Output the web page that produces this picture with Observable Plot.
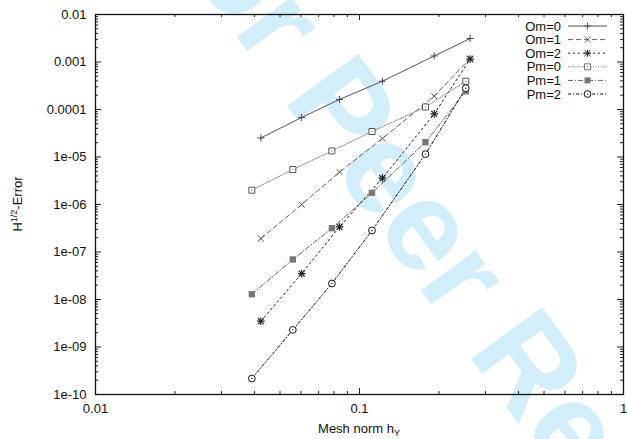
<!DOCTYPE html>
<html><head><meta charset="utf-8">
<script src="https://cdn.jsdelivr.net/npm/d3@7"></script>
<script src="https://cdn.jsdelivr.net/npm/@observablehq/plot@0.6"></script>
<style>
body{margin:0;background:#fff;}
svg{display:block;font-family:"Liberation Sans",Arial,Helvetica,sans-serif;}
</style>
</head><body><div id="chart"></div>
<script>
// ---- data ----
const seriesNames = ["Om=0", "Om=1", "Om=2", "Pm=0", "Pm=1", "Pm=2"];
const omMesh = [0.0423, 0.0604, 0.0840, 0.1221, 0.1919, 0.2624];
const pmMesh = [0.0391, 0.0559, 0.0786, 0.1115, 0.1778, 0.2527];
const om0Err = [2.52e-5, 6.79e-5, 1.63e-4, 3.94e-4, 1.34e-3, 3.12e-3];
const om1Err = [1.92e-7, 1.0e-6, 4.79e-6, 2.45e-5, 1.91e-4, 1.19e-3];
const om2Err = [3.49e-9, 3.52e-8, 3.38e-7, 3.58e-6, 8.08e-5, 1.15e-3];
const pm0Err = [2.0e-6, 5.46e-6, 1.34e-5, 3.44e-5, 1.13e-4, 3.94e-4];
const pm1Err = [1.29e-8, 6.95e-8, 3.17e-7, 1.75e-6, 2.05e-5, 2.43e-4];
const pm2Err = [2.17e-10, 2.29e-9, 2.17e-8, 2.84e-7, 1.15e-5, 2.81e-4];
const xTicks = [0.01, 0.1, 1];
const xTickLabels = ["0.01", "0.1", "1"];
const yTicks = [1e-10, 1e-9, 1e-8, 1e-7, 1e-6, 1e-5, 1e-4, 1e-3, 1e-2];
const yTickLabels = ["1e-10", "1e-09", "1e-08", "1e-07", "1e-06", "1e-05", "0.0001", "0.001", "0.01"];
const watermark = "For Peer Review";

// ---- build table ----
const meshFor = [omMesh, omMesh, omMesh, pmMesh, pmMesh, pmMesh];
const errFor = [om0Err, om1Err, om2Err, pm0Err, pm1Err, pm2Err];
const rows = [];
seriesNames.forEach((s, k) => errFor[k].forEach((e, i) => rows.push({series: s, h: meshFor[k][i], err: e})));
const of = s => rows.filter(d => d.series === s);

const sty = {
  "Om=0": {stroke: "#555", dash: null},
  "Om=1": {stroke: "#666", dash: "5,3"},
  "Om=2": {stroke: "#222", dash: "2,3"},
  "Pm=0": {stroke: "#777", dash: "1,1.5"},
  "Pm=1": {stroke: "#666", dash: "5,2,1,2"},
  "Pm=2": {stroke: "#111", dash: "3,2,1,2"}
};

const W = 627, H = 439, mL = 95, mR = 4, mT = 14, mB = 45;
const fw = W - mL - mR, fh = H - mT - mB;
const minors = ticks => ticks.slice(0, -1).flatMap(t => d3.range(2, 10).map(j => j * t));
const xLab = new Map(xTicks.map((t, i) => [t, xTickLabels[i]]));
const yLab = new Map(yTicks.map((t, i) => [t, yTickLabels[i]]));

const marks = [];
const tk = {stroke: "#222", strokeWidth: 1};
marks.push(Plot.ruleX(xTicks, {x: d => d, insetTop: fh - 6, ...tk}));
marks.push(Plot.ruleX(xTicks, {x: d => d, insetBottom: fh - 6, ...tk}));
marks.push(Plot.ruleX(minors(xTicks), {x: d => d, insetTop: fh - 3, ...tk}));
marks.push(Plot.ruleX(minors(xTicks), {x: d => d, insetBottom: fh - 3, ...tk}));
marks.push(Plot.ruleY(yTicks, {y: d => d, insetRight: fw - 6, ...tk}));
marks.push(Plot.ruleY(yTicks, {y: d => d, insetLeft: fw - 6, ...tk}));
marks.push(Plot.ruleY(minors(yTicks), {y: d => d, insetRight: fw - 3, ...tk}));
marks.push(Plot.ruleY(minors(yTicks), {y: d => d, insetLeft: fw - 3, ...tk}));
marks.push(Plot.frame({stroke: "#111", strokeWidth: 1.3}));
marks.push(Plot.axisX({ticks: xTicks, tickFormat: d => xLab.get(d), tickSize: 0, tickPadding: 9, fontSize: 13, label: null, fill: "#111"}));
marks.push(Plot.axisY({ticks: yTicks, tickFormat: d => yLab.get(d), tickSize: 0, tickPadding: 9, fontSize: 13, label: null, fill: "#111"}));

seriesNames.forEach(s => {
  marks.push(Plot.line(of(s), {x: "h", y: "err", stroke: sty[s].stroke, strokeWidth: 1, strokeDasharray: sty[s].dash}));
});
marks.push(Plot.dot(of("Om=0"), {x: "h", y: "err", symbol: "plus", r: 2.4, stroke: "#444", strokeWidth: 1}));
marks.push(Plot.dot(of("Om=1"), {x: "h", y: "err", symbol: "times", r: 2.8, stroke: "#555", strokeWidth: 1}));
marks.push(Plot.dot(of("Om=2"), {x: "h", y: "err", symbol: "plus", r: 2.6, stroke: "#222", strokeWidth: 1.2}));
marks.push(Plot.dot(of("Om=2"), {x: "h", y: "err", symbol: "times", r: 2.8, stroke: "#222", strokeWidth: 1.2}));
marks.push(Plot.dot(of("Pm=0"), {x: "h", y: "err", symbol: "square", r: 3.4, fill: "white", stroke: "#555", strokeWidth: 1}));
marks.push(Plot.dot(of("Pm=0"), {x: "h", y: "err", r: 0.6, fill: "#555"}));
marks.push(Plot.dot(of("Pm=1"), {x: "h", y: "err", symbol: "square", r: 3.6, fill: "#777", stroke: "none"}));
marks.push(Plot.dot(of("Pm=2"), {x: "h", y: "err", symbol: "circle", r: 3.4, fill: "white", stroke: "#111", strokeWidth: 1}));
marks.push(Plot.dot(of("Pm=2"), {x: "h", y: "err", r: 0.7, fill: "#111"}));

const svgEl = Plot.plot({
  width: W, height: H,
  marginLeft: mL, marginRight: mR, marginTop: mT, marginBottom: mB,
  x: {type: "log", domain: [0.01, 1]},
  y: {type: "log", domain: [1e-10, 1e-2]},
  style: {background: "transparent", fontSize: "13px", fontFamily: "Liberation Sans, Arial, sans-serif", color: "#111"},
  marks
});
document.getElementById("chart").append(svgEl);

const svg = d3.select(svgEl);
// watermark behind everything, laid out so that "Review" starts where the reference shows it
const ang = 54, rad = ang * Math.PI / 180;
const wm = svg.insert("text", ":first-child")
  .attr("text-anchor", "start")
  .attr("font-size", 128).attr("font-weight", "bold")
  .attr("font-family", "Liberation Sans, Arial, sans-serif")
  .attr("fill", "#d3eefb")
  .text(watermark);
const pre = wm.node().getSubStringLength(0, watermark.indexOf("Review"));
const rx = 466, ry = 352;
wm.attr("transform", `translate(${rx - pre * Math.cos(rad)},${ry - pre * Math.sin(rad)}) rotate(${ang})`);

// axis titles
const xt = svg.append("text").attr("x", mL + fw / 2).attr("y", 428).attr("dy", "0.35em")
  .attr("text-anchor", "middle").attr("font-size", 13).attr("fill", "#111");
xt.append("tspan").text("Mesh norm h");
xt.append("tspan").attr("font-size", 9).attr("dy", "3").text("Y");
const yt = svg.append("text").attr("transform", `translate(17,${mT + fh / 2}) rotate(-90)`)
  .attr("text-anchor", "middle").attr("dy", "0.35em").attr("font-size", 13).attr("fill", "#111");
yt.append("tspan").text("H");
yt.append("tspan").attr("font-size", 9).attr("dy", "-5").text("1/2");
yt.append("tspan").attr("dy", "5").text("-Error");

// legend
const lg = svg.append("g");
const symFor = {"Om=0": ["plus"], "Om=1": ["times"], "Om=2": ["plus", "times"], "Pm=0": ["square"], "Pm=1": ["square"], "Pm=2": ["circle"]};
const d3sym = {plus: d3.symbolPlus, times: d3.symbolTimes, square: d3.symbolSquare, circle: d3.symbolCircle};
seriesNames.forEach((s, i) => {
  const y = mT + 12 + i * 13.6;
  lg.append("text").attr("x", 561).attr("y", y).attr("dy", "0.35em").attr("text-anchor", "end")
    .attr("font-size", 13).attr("fill", "#111").text(s);
  lg.append("line").attr("x1", 568).attr("x2", 607).attr("y1", y).attr("y2", y)
    .attr("stroke", sty[s].stroke).attr("stroke-width", 1).attr("stroke-dasharray", sty[s].dash);
  symFor[s].forEach(t => {
    const size = {plus: 18, times: 25, square: 36, circle: 36}[t];
    const p = lg.append("path").attr("transform", `translate(587.5,${y})`).attr("d", d3.symbol(d3sym[t], size)());
    if (s === "Pm=1") p.attr("fill", "#777");
    else if (t === "square" || t === "circle") p.attr("fill", "white").attr("stroke", sty[s].stroke);
    else p.attr("fill", "none").attr("stroke", sty[s].stroke);
  });
  if (s === "Pm=0" || s === "Pm=2") lg.append("circle").attr("cx", 587.5).attr("cy", y).attr("r", 0.6).attr("fill", sty[s].stroke);
});
</script>
</body></html>
